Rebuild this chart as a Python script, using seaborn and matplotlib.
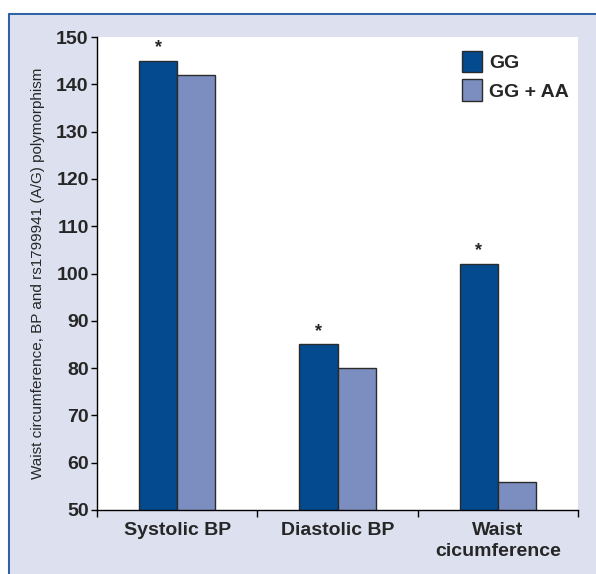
import pandas as pd
import matplotlib.pyplot as plt
import seaborn as sns

# Data
categories = ['Systolic BP', 'Diastolic BP', 'Waist\ncicumference']
groups = ['GG', 'GG + AA']
gg_values = [145, 85, 102]
ggaa_values = [142, 80, 56]
significant = [True, True, True]  # asterisk over the GG bar

sns.set_theme(style="white")
plt.rcParams['font.family'] = ['Liberation Sans Narrow', 'Liberation Sans', 'DejaVu Sans']

df = pd.DataFrame({
    'category': categories * 2,
    'group': [groups[0]] * 3 + [groups[1]] * 3,
    'value': gg_values + ggaa_values,
})

bg = '#dde1ef'
fig = plt.figure(figsize=(5.96, 5.74), dpi=100, facecolor=bg)
ax = fig.add_axes([0.1628, 0.1115, 0.807, 0.824])
ax.set_facecolor('white')

sns.barplot(data=df, x='category', y='value', hue='group', order=categories,
            hue_order=groups, palette=['#034a8f', '#7b8ebf'], width=0.475,
            edgecolor='#2b2b2b', linewidth=1.0, saturation=1, ax=ax)

ax.set_ylim(50, 150)
ax.set_xlim(-0.5, 2.5)
ax.set_yticks(range(50, 151, 10))
ax.tick_params(axis='y', which='major', length=4, width=1, color='black',
               labelsize=14, pad=2, direction='out', left=True)
for lab in ax.get_yticklabels():
    lab.set_fontweight('bold')
ax.set_xticks([-0.5, 0.5, 1.5, 2.5], minor=True)
ax.tick_params(axis='x', which='minor', length=5, width=1, color='black',
               direction='out', bottom=True)
ax.tick_params(axis='x', which='major', length=0, labelsize=14, pad=9)
for lab in ax.get_xticklabels():
    lab.set_fontweight('bold')
    lab.set_linespacing(1.25)

for side in ['top', 'right']:
    ax.spines[side].set_visible(False)
for side in ['left', 'bottom']:
    ax.spines[side].set_color('black')
    ax.spines[side].set_linewidth(1)

ax.set_xlabel('')
ax.set_ylabel('Waist circumference, BP and rs1799941 (A/G) polymorphism',
              fontsize=11, labelpad=8)

# asterisks above the GG bars
gg_bars = ax.containers[0]
for bar, sig in zip(gg_bars, significant):
    if sig:
        ax.text(bar.get_x() + bar.get_width() / 2, bar.get_height() + 1.0, '*',
                ha='center', va='bottom', fontsize=13, fontweight='bold')

leg = ax.legend(loc='upper right', bbox_to_anchor=(1.01, 1.0), frameon=False,
                fontsize=14, handlelength=1.0, handleheight=1.35,
                handletextpad=0.4, labelspacing=0.35, borderaxespad=0.3)
for t in leg.get_texts():
    t.set_fontweight('bold')

# blue frame line at the top and left of the figure
border = '#2f63a6'
fig.add_artist(plt.Line2D([9 / 596, 1.0], [1 - 14 / 574, 1 - 14 / 574],
                          transform=fig.transFigure, color=border, lw=1.5))
fig.add_artist(plt.Line2D([9 / 596, 9 / 596], [0, 1 - 14 / 574],
                          transform=fig.transFigure, color=border, lw=1.5))
# white strip above and left of the frame
fig.patches.append(plt.Rectangle((0, 1 - 14 / 574), 1, 14 / 574,
                                 transform=fig.transFigure, color='white', zorder=-1))
fig.patches.append(plt.Rectangle((0, 0), 9 / 596, 1,
                                 transform=fig.transFigure, color='white', zorder=-1))

fig.savefig('out.png', dpi=100, facecolor=bg)
